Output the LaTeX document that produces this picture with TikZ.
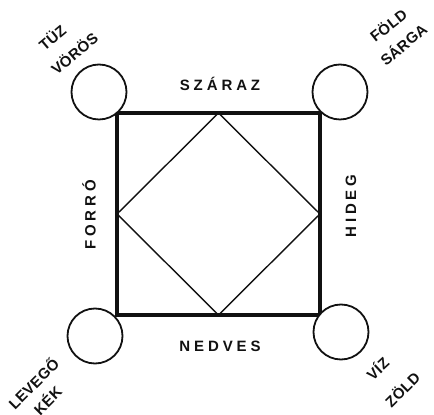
\documentclass[tikz,border=0pt]{standalone}
\usepackage{fontspec}
\setmainfont{Liberation Sans}
\newfontfamily\sidefont[LetterSpace=26]{Liberation Sans Bold}
\newfontfamily\cornerfont[LetterSpace=2]{Liberation Sans Bold}
\usetikzlibrary{positioning,calc}
\definecolor{InkBlack}{HTML}{111111}

\begin{document}
\begin{tikzpicture}[
  x=1pt, y=1pt,
  frame/.style={line width=4.5pt, draw=InkBlack, line join=miter},
  diag/.style={line width=1.4pt, draw=InkBlack},
  element/.style={circle, draw=InkBlack, fill=white, line width=1.8pt, minimum size=55pt, inner sep=0pt},
  sidelabel/.style={font=\sidefont\fontsize{15}{15}\selectfont, text=InkBlack, inner sep=0pt},
  cornerlabel/.style={font=\cornerfont\fontsize{15}{15}\selectfont, text=InkBlack, inner sep=0pt}
]
  \useasboundingbox (0,0) rectangle (434,415);

  % corners of the square
  \coordinate (tl) at (117,302);
  \coordinate (tr) at (320,302);
  \coordinate (br) at (320,100);
  \coordinate (bl) at (117,100);

  % midpoints for the inner diamond
  \coordinate (mtop) at ($(tl)!0.5!(tr)$);
  \coordinate (mright) at ($(tr)!0.5!(br)$);
  \coordinate (mbottom) at ($(bl)!0.5!(br)$);
  \coordinate (mleft) at ($(tl)!0.5!(bl)$);

  \draw[frame] (tl) -- (tr) -- (br) -- (bl) -- cycle;
  \draw[diag] (mtop) -- (mright) -- (mbottom) -- (mleft) -- cycle;

  % the four elements
  \node[element] (fire) at ($(tl)+(-18,21)$) {};
  \node[element] (earth) at ($(tr)+(20,21)$) {};
  \node[element] (air) at ($(bl)+(-22,-21)$) {};
  \node[element] (water) at ($(br)+(21,-17)$) {};

  % qualities
  \node[sidelabel] (dry) at (220,331) {SZÁRAZ};
  \node[sidelabel] (wet) at (220,69) {NEDVES};
  \node[sidelabel, rotate=90] (hot) at (89,200) {FORRÓ};
  \node[sidelabel, rotate=90] (cold) at (351,209) {HIDEG};

  % names and colours
  \node[cornerlabel, rotate=40] (firename) at (52,378) {TÜZ};
  \node[cornerlabel, rotate=40] (firecol) at (74,362) {VÖRÖS};
  \node[cornerlabel, rotate=38] (earthname) at (388,390) {FÖLD};
  \node[cornerlabel, rotate=40] (earthcol) at (403,371) {SÁRGA};
  \node[cornerlabel, rotate=45] (airname) at (33,32) {LEVEGŐ};
  \node[cornerlabel, rotate=45] (aircol) at (47,15) {KÉK};
  \node[cornerlabel, rotate=43] (watername) at (377,47) {VÍZ};
  \node[cornerlabel, rotate=45] (watercol) at (402,26) {ZÖLD};
\end{tikzpicture}
\end{document}
